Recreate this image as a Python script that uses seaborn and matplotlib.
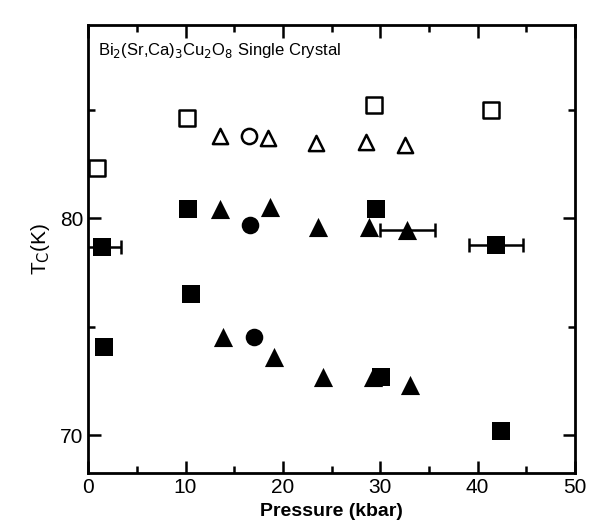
import matplotlib
matplotlib.use('Agg')
import matplotlib.pyplot as plt
import seaborn as sns
import pandas as pd

# open symbols (top group)
open_sq_p = [0.9, 10.2, 29.4, 41.4]
open_sq_t = [82.3, 84.6, 85.2, 85.0]
open_tri_p = [13.5, 18.5, 23.4, 28.5, 32.5]
open_tri_t = [83.8, 83.7, 83.45, 83.5, 83.35]
open_circ_p = [16.5]
open_circ_t = [83.8]

# filled symbols, middle group
mid_sq_p = [10.3, 29.6, 1.4, 41.9]
mid_sq_t = [80.4, 80.4, 78.65, 78.75]
mid_tri_p = [13.5, 18.7, 23.6, 28.8, 32.8]
mid_tri_t = [80.4, 80.5, 79.6, 79.6, 79.45]
mid_circ_p = [16.6]
mid_circ_t = [79.7]

# filled symbols, lower group
low_sq_p = [10.6, 1.65, 30.1, 42.4]
low_sq_t = [76.5, 74.05, 72.7, 70.2]
low_tri_p = [13.9, 19.1, 24.1, 29.3, 33.1]
low_tri_t = [74.5, 73.6, 72.7, 72.7, 72.3]
low_circ_p = [17.0]
low_circ_t = [74.5]

# horizontal error bars (pressure, Tc, xerr)
err_p = [1.4, 41.9, 32.8]
err_t = [78.65, 78.75, 79.45]
err_x = [2.0, 2.8, 2.8]

sns.set_style('ticks')
plt.rcParams['font.family'] = ['Liberation Sans', 'DejaVu Sans']

fig = plt.figure(figsize=(5.92, 5.31), dpi=100)
ax = fig.add_axes([0.149, 0.109, 0.822, 0.844])

ax.errorbar(err_p, err_t, xerr=err_x, fmt='none', ecolor='black',
            elinewidth=1.8, capsize=5, capthick=1.8, zorder=1)

def pts(p, t):
    return pd.DataFrame({'p': p, 't': t})

hollow = dict(facecolor='white', edgecolor='black', linewidth=1.8, zorder=3)
solid = dict(color='black', edgecolor='black', linewidth=0, zorder=3)

sns.scatterplot(data=pts(open_sq_p, open_sq_t), x='p', y='t', marker='s', s=140, ax=ax, **hollow)
sns.scatterplot(data=pts(open_tri_p, open_tri_t), x='p', y='t', marker='^', s=120, ax=ax, **hollow)
sns.scatterplot(data=pts(open_circ_p, open_circ_t), x='p', y='t', marker='o', s=120, ax=ax, **hollow)

for sp, st, tp, tt, cp, ct in [
        (mid_sq_p, mid_sq_t, mid_tri_p, mid_tri_t, mid_circ_p, mid_circ_t),
        (low_sq_p, low_sq_t, low_tri_p, low_tri_t, low_circ_p, low_circ_t)]:
    sns.scatterplot(data=pts(sp, st), x='p', y='t', marker='s', s=180, ax=ax, **solid)
    sns.scatterplot(data=pts(tp, tt), x='p', y='t', marker='^', s=190, ax=ax, **solid)
    sns.scatterplot(data=pts(cp, ct), x='p', y='t', marker='o', s=160, ax=ax, **solid)

ax.set_xlim(0, 50)
ax.set_ylim(68.25, 88.9)
ax.set_xticks([0, 10, 20, 30, 40, 50])
ax.set_xticks([5, 15, 25, 35, 45], minor=True)
ax.set_yticks([70, 80])
ax.set_yticks([75, 85], minor=True)
ax.tick_params(which='both', direction='in', top=True, right=True, width=1.8,
               labelsize=15, colors='black')
ax.tick_params(which='major', length=9)
ax.tick_params(which='minor', length=5)
for s in ax.spines.values():
    s.set_linewidth(2)
    s.set_color('black')

ax.set_xlabel('Pressure (kbar)', fontsize=14, fontweight='bold', color='black')
ax.set_ylabel(r'T$_\mathrm{C}$(K)', fontsize=15, labelpad=6, color='black')

ax.text(0.02, 0.965, r'Bi$_2$(Sr,Ca)$_3$Cu$_2$O$_8$ Single Crystal',
        transform=ax.transAxes, fontsize=12, va='top', ha='left', color='black')

fig.savefig('out.png', dpi=100)
